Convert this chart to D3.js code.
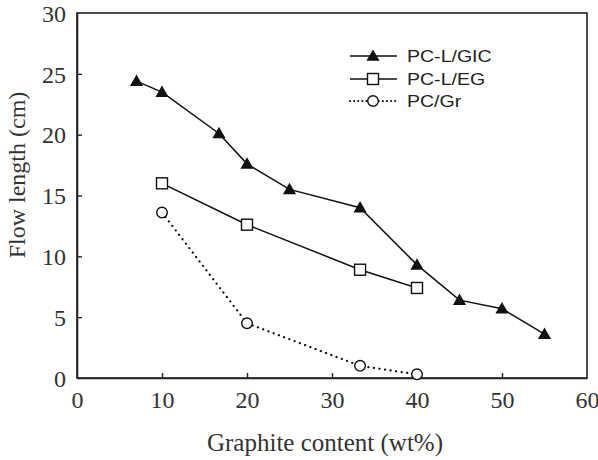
<!DOCTYPE html>
<html>
<head>
<meta charset="utf-8">
<script src="https://cdn.jsdelivr.net/npm/d3@7"></script>
<style>
  html, body { margin: 0; padding: 0; background: #fff; }
  svg { display: block; }
</style>
</head>
<body>
<svg id="chart" width="598" height="460"></svg>
<script>
// ---- data ----
const seriesNames = ["PC-L/GIC", "PC-L/EG", "PC/Gr"];
const gicX = [7, 10, 16.7, 20, 25, 33.3, 40, 45, 50, 55];
const gicY = [24.4, 23.5, 20.1, 17.6, 15.5, 14.0, 9.3, 6.4, 5.7, 3.6];
const egX = [10, 20, 33.3, 40];
const egY = [16.0, 12.6, 8.9, 7.4];
const grX = [10, 20, 33.3, 40];
const grY = [13.6, 4.5, 1.0, 0.3];
const xTicks = [0, 10, 20, 30, 40, 50, 60];
const yTicks = [0, 5, 10, 15, 20, 25, 30];
const xTitle = "Graphite content (wt%)";
const yTitle = "Flow length (cm)";

// ---- layout ----
const svg = d3.select("#chart");
const L = 77, R = 587, T = 13, B = 378;
const x = d3.scaleLinear().domain([0, 60]).range([L, R]);
const y = d3.scaleLinear().domain([0, 30]).range([B, T]);
const ink = "#111";

// frame
svg.append("rect").attr("x", L).attr("y", T).attr("width", R - L).attr("height", B - T)
  .attr("fill", "none").attr("stroke", "#222").attr("stroke-width", 1.6);

// axes with inward ticks
const xAxis = d3.axisBottom(x).tickValues(xTicks).tickSizeInner(-5).tickSizeOuter(0).tickPadding(14);
const yAxis = d3.axisLeft(y).tickValues(yTicks).tickSizeInner(-5).tickSizeOuter(0).tickPadding(11);

const gx = svg.append("g").attr("transform", `translate(0,${B})`).call(xAxis);
const gy = svg.append("g").attr("transform", `translate(${L},0)`).call(yAxis);
[gx, gy].forEach(g => {
  g.select(".domain").attr("stroke", "#222").attr("stroke-width", 1.6);
  g.selectAll(".tick line").attr("stroke", "#222").attr("stroke-width", 1.4);
  g.selectAll(".tick text").attr("font-family", "'Liberation Serif', 'Times New Roman', serif")
    .attr("font-size", 24).attr("fill", "#333");
});
gx.selectAll(".tick text").attr("dy", "0.68em");
gy.selectAll(".tick text").attr("dy", "0.34em");
// hide ticks on the frame edges
gx.selectAll(".tick line").filter(d => d === 0 || d === 60).remove();
gy.selectAll(".tick line").filter(d => d === 0 || d === 30).remove();

// titles
svg.append("text").attr("x", 325).attr("y", 451).attr("text-anchor", "middle")
  .attr("font-family", "'Liberation Serif', 'Times New Roman', serif").attr("font-size", 25)
  .attr("fill", "#333").text(xTitle);
svg.append("text").attr("transform", "translate(25,175) rotate(-90)").attr("text-anchor", "middle")
  .attr("font-family", "'Liberation Serif', 'Times New Roman', serif").attr("font-size", 24)
  .attr("fill", "#333").text(yTitle);

// lines
const line = d3.line().x(d => x(d[0])).y(d => y(d[1]));
const gic = gicX.map((v, i) => [v, gicY[i]]);
const eg = egX.map((v, i) => [v, egY[i]]);
const gr = grX.map((v, i) => [v, grY[i]]);

svg.append("path").datum(gic).attr("d", line).attr("fill", "none").attr("stroke", ink).attr("stroke-width", 1.5);
svg.append("path").datum(eg).attr("d", line).attr("fill", "none").attr("stroke", ink).attr("stroke-width", 1.5);
svg.append("path").datum(gr).attr("d", line).attr("fill", "none").attr("stroke", ink).attr("stroke-width", 2.2)
  .attr("stroke-dasharray", "0.1,5.5").attr("stroke-linecap", "round");

// markers
const triSym = d3.symbol().type(d3.symbolTriangle).size(75);
function drawTri(g, cx, cy) {
  g.append("path").attr("d", triSym()).attr("transform", `translate(${cx},${cy + 1})`).attr("fill", ink);
}
function drawSq(g, cx, cy) {
  g.append("rect").attr("x", cx - 5.5).attr("y", cy - 5.5).attr("width", 11).attr("height", 11)
    .attr("fill", "#fff").attr("stroke", ink).attr("stroke-width", 1.4);
}
function drawCirc(g, cx, cy) {
  g.append("circle").attr("cx", cx).attr("cy", cy).attr("r", 5.3)
    .attr("fill", "#fff").attr("stroke", ink).attr("stroke-width", 1.4);
}
const mg = svg.append("g");
gic.forEach(d => drawTri(mg, x(d[0]), y(d[1])));
eg.forEach(d => drawSq(mg, x(d[0]), y(d[1])));
gr.forEach(d => drawCirc(mg, x(d[0]), y(d[1])));

// legend
const lg = svg.append("g");
const legRows = [56, 79, 101];
const drawers = [drawTri, drawSq, drawCirc];
seriesNames.forEach((name, i) => {
  const yy = legRows[i];
  const ln = lg.append("line").attr("x1", 350).attr("x2", 397).attr("y1", yy).attr("y2", yy)
    .attr("stroke", ink);
  if (i === 2) ln.attr("stroke-width", 2).attr("stroke-dasharray", "0.1,4").attr("stroke-linecap", "round");
  else ln.attr("stroke-width", 1.5);
  drawers[i](lg, 373, yy);
  lg.append("text").attr("transform", `translate(407,${yy + 6}) scale(1.15,1)`)
    .attr("font-family", "'Liberation Sans', Arial, sans-serif").attr("font-size", 17)
    .attr("fill", "#222").text(name);
});
</script>
</body>
</html>
